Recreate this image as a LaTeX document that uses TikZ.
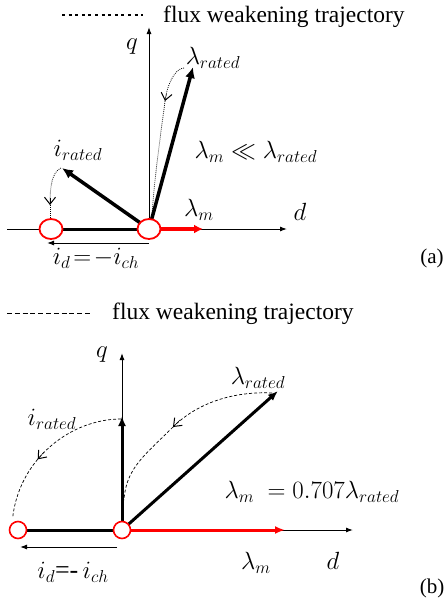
\documentclass[tikz,border=0pt]{standalone}
\usepackage{fontspec}
\setmainfont{Liberation Serif}
\usetikzlibrary{arrows.meta,shapes.geometric}
\begin{document}
\begin{tikzpicture}[x=1pt,y=-1pt,
  axis/.style={line width=1pt,-{Latex[length=7pt,width=5pt]}},
  vec/.style={line width=3.5pt,-{Latex[length=11pt,width=10pt]}},
  vecb/.style={line width=3pt,-{Latex[length=10pt,width=8pt]}},
  trajA/.style={line width=0.8pt,dash pattern=on 0.8pt off 1.2pt},
  trajB/.style={line width=0.7pt,dash pattern=on 3pt off 2pt},
  barb/.style={-{Straight Barb[length=7pt,width=11pt,line width=1pt]}},
  ringA/.style={ellipse,draw=red,fill=white,line width=1.8pt,minimum width=23pt,minimum height=20pt,inner sep=0pt},
  ringB/.style={circle,draw=red,fill=white,line width=1.6pt,minimum size=17pt,inner sep=0pt},
  lab/.style={inner sep=0pt,font=\fontsize{26}{30}\selectfont},
  legend/.style={inner sep=0pt,anchor=base west,font=\fontsize{23.5}{28}\selectfont},
  tag/.style={inner sep=0pt,font=\fontsize{21}{25}\selectfont}]
\useasboundingbox (0,0) rectangle (447,603);

% ---------------- panel (a) ----------------
\coordinate (la1) at (62,15);
\coordinate (la2) at (143,15);
\draw[line width=2.6pt,dash pattern=on 3pt off 3.6pt] (la1) -- (la2);
\node[legend] (lega) at (163,22) {flux weakening trajectory};

\coordinate (O1) at (149,229);
\coordinate (L1) at (51,229);
\coordinate (qa) at (149,27);
\coordinate (dla) at (7,229);
\coordinate (dra) at (287,229);
\coordinate (ra) at (203,229);
\coordinate (ida1) at (149,243);
\coordinate (ida2) at (47,243);
\coordinate (ia) at (62,168);
\coordinate (lra) at (193,67);

\draw[axis] (dla) -- (dra);
\draw[axis] (O1) -- (qa);
\draw[line width=3pt] (L1) -- (O1);
\draw[red,line width=3.5pt,-{Latex[length=9pt,width=9pt]}] (O1) -- (ra);
\draw[line width=1pt,-{Latex[length=7pt,width=5pt]}] (ida1) -- (ida2);
\draw[vec] (O1) -- (ia);
\draw[vec] (O1) -- (lra);

\coordinate (ca1) at (61,168);
\coordinate (ca2) at (50,205);
\coordinate (ca3) at (50,218);
\draw[trajA] (ca1) .. controls (52,172) and (50,186) .. (ca2);
\draw[barb] (50,198) -- (ca2);
\draw[trajA] (ca2) -- (ca3);

\coordinate (cb1) at (184,68);
\coordinate (cb2) at (165,101);
\coordinate (cb3) at (152,217);
\draw[trajA] (cb1) .. controls (175,68) and (167,85) .. (cb2);
\draw[barb] (166.5,94) -- (cb2);
\draw[trajA] (cb2) .. controls (160,140) and (154,180) .. (cb3);

\node[ringA] (cL1) at (L1) {};
\node[ringA] (cO1) at (O1) {};

\node[lab] (qla) at (132,47) {$q$};
\node[lab] (dlaa) at (300,212) {$d$};
\node[lab] (lrla) at (213,58) {$\lambda_{rated}$};
\node[lab] (rel1) at (256,152) {$\lambda_m \ll \lambda_{rated}$};
\node[lab] (ila) at (78,150) {$i_{rated}$};
\node[lab] (lma) at (199,210) {$\lambda_m$};
\node[lab] (ida) at (96,258) {$i_d\!=\!-i_{ch}$};
\node[tag] (taga) at (432,258) {(a)};

% ---------------- panel (b) ----------------
\coordinate (lb1) at (7,313);
\coordinate (lb2) at (90,313);
\draw[line width=0.8pt,dash pattern=on 5pt off 2.8pt] (lb1) -- (lb2);
\node[legend] (legb) at (112,319) {flux weakening trajectory};

\coordinate (O2) at (122,530);
\coordinate (L2) at (18,530);
\coordinate (qb) at (122,353);
\coordinate (drb) at (353,530);
\coordinate (rb) at (285,530);
\coordinate (idb1) at (117,547);
\coordinate (idb2) at (20,547);
\coordinate (vb) at (122,416);
\coordinate (lrb) at (278,391);

\draw[axis] (O2) -- (drb);
\draw[axis] (O2) -- (qb);
\draw[line width=3pt] (L2) -- (O2);
\draw[red,line width=3pt,-{Latex[length=10pt,width=8pt]}] (O2) -- (rb);
\draw[line width=1pt,-{Latex[length=7pt,width=5pt]}] (idb1) -- (idb2);
\draw[vecb] (O2) -- (vb);
\draw[vecb] (O2) -- (lrb);

\coordinate (cc1) at (121,419);
\coordinate (cc2) at (37.7,459.3);
\coordinate (cc3) at (12.8,516.6);
\draw[trajB] (cc1) .. controls (89.5,419) and (58.6,434.4) .. (cc2);
\draw[barb] (44,452) -- (cc2);
\draw[trajB] (cc2) .. controls (24,475.6) and (15.4,495.5) .. (cc3);

\coordinate (cd1) at (272,393);
\coordinate (cd2) at (173,427);
\coordinate (cd3) at (124,500);
\draw[trajB] (cd1) .. controls (230,391) and (195,405) .. (cd2);
\draw[barb] (180,420) -- (cd2);
\draw[trajB] (cd2) .. controls (145,455) and (126,468) .. (cd3);

\node[ringB] (cL2) at (L2) {};
\node[ringB] (cO2) at (O2) {};

\node[lab] (qlb) at (102,355) {$q$};
\node[lab] (dlb) at (333,561) {$d$};
\node[lab] (lrlb) at (258,378) {$\lambda_{rated}$};
\node[lab] (rel2) at (312,492) {$\lambda_m\ = 0.707\lambda_{rated}$};
\node[lab] (ilb) at (52,419) {$i_{rated}$};
\node[lab] (lmb) at (256,563) {$\lambda_m$};
\node[lab] (idb) at (73,572) {$i_d$=-\,$i_{ch}$};
\node[tag] (tagb) at (432,588) {(b)};
\end{tikzpicture}
\end{document}
